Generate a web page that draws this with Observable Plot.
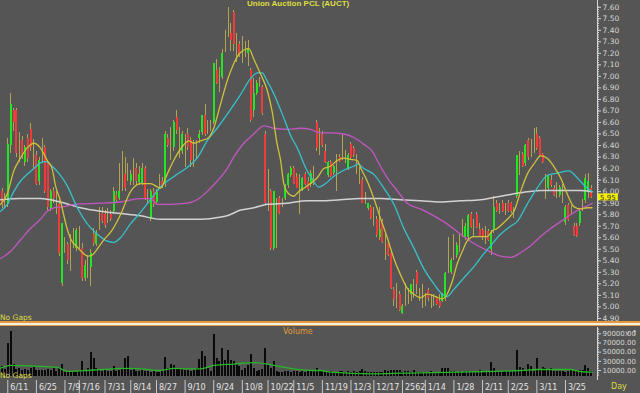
<!DOCTYPE html>
<html><head><meta charset="utf-8">
<script src="https://cdn.jsdelivr.net/npm/d3@7"></script>
<script src="https://cdn.jsdelivr.net/npm/@observablehq/plot@0.6"></script>
<style>
html,body{margin:0;padding:0;background:#555555;}
#wrap{position:relative;width:640px;height:393px;background:#555555;overflow:hidden;font-family:"DejaVu Sans",sans-serif;}
.pane{position:absolute;left:0;}
.pane svg{overflow:visible;display:block;}
.lbl{position:absolute;white-space:nowrap;line-height:1;}
.band{position:absolute;left:0;width:640px;}
</style></head><body><div id="wrap"></div>
<script>
// ---- data ----
const openP=[6.00,5.92,5.89,6.40,6.70,6.70,6.40,6.44,6.25,6.46,6.54,6.35,6.31,6.09,6.35,6.38,6.25,5.85,6.00,5.92,
5.89,5.20,5.55,5.54,5.45,5.60,5.51,5.62,5.51,5.25,5.32,5.34,5.63,5.54,5.75,5.81,5.80,5.78,5.80,5.83,
5.97,5.94,6.12,6.15,6.15,6.09,6.15,6.20,6.08,6.07,6.20,5.98,5.76,6.00,5.91,6.10,6.09,6.06,6.46,6.40,
6.38,6.64,6.45,6.35,6.42,6.50,6.44,6.33,6.38,6.46,6.51,6.66,6.55,6.58,6.60,7.05,7.00,6.99,7.30,7.45,
7.37,7.55,7.25,7.28,7.20,7.22,7.20,7.05,6.70,6.85,6.95,6.90,6.50,5.95,6.00,5.51,5.85,5.94,5.90,5.94,
6.05,6.14,6.20,6.12,6.08,6.02,6.15,6.09,6.06,6.12,6.60,6.45,6.50,6.35,6.14,6.25,6.16,6.20,6.30,6.35,
6.30,6.20,6.41,6.37,6.24,6.15,6.10,5.95,5.85,5.86,5.80,5.76,5.60,5.74,5.50,5.55,5.46,5.15,5.10,5.11,
4.94,5.10,5.10,5.11,5.15,5.30,5.12,5.10,5.05,5.14,5.05,5.06,5.07,5.05,5.05,5.07,5.45,5.30,5.50,5.45,
5.55,5.65,5.60,5.60,5.80,5.70,5.80,5.67,5.66,5.62,5.65,5.50,5.66,5.90,5.86,5.90,5.86,5.90,5.90,5.82,
5.96,6.25,6.32,6.24,6.44,6.40,6.45,6.50,6.46,6.32,6.05,6.03,6.10,6.03,6.02,5.97,6.00,5.73,5.88,5.85,
5.70,5.70,5.72,5.88,5.92,6.00,6.03];
const highP=[6.03,5.98,6.46,6.85,6.72,6.72,6.51,6.48,6.40,6.50,6.59,6.45,6.35,6.30,6.46,6.40,6.27,6.02,6.04,6.00,
5.92,5.72,5.60,5.56,5.63,5.68,5.68,5.70,5.55,5.40,5.45,5.50,5.68,5.66,5.86,5.86,5.84,5.85,5.84,6.04,
6.00,6.24,6.35,6.30,6.24,6.18,6.29,6.24,6.22,6.24,6.22,6.02,6.02,6.03,6.02,6.15,6.12,6.52,6.50,6.56,
6.62,6.70,6.56,6.52,6.50,6.55,6.47,6.44,6.44,6.53,6.66,6.76,6.62,6.62,7.11,7.15,7.08,7.23,7.40,7.60,
7.46,7.57,7.37,7.30,7.35,7.30,7.31,7.07,6.98,6.96,6.99,6.92,6.52,6.19,6.02,6.00,5.94,5.96,5.94,6.06,
6.16,6.22,6.22,6.16,6.15,6.12,6.17,6.12,6.18,6.22,6.62,6.55,6.52,6.41,6.26,6.27,6.23,6.32,6.32,6.50,
6.36,6.33,6.43,6.39,6.32,6.21,6.12,5.99,5.90,5.88,5.86,5.78,5.86,5.76,5.63,5.57,5.48,5.17,5.20,5.13,
5.02,5.20,5.16,5.19,5.24,5.32,5.16,5.19,5.12,5.16,5.11,5.11,5.09,5.11,5.12,5.30,5.60,5.42,5.63,5.56,
5.63,5.76,5.72,5.80,5.82,5.76,5.82,5.72,5.68,5.70,5.67,5.66,5.96,5.92,5.90,5.92,5.90,5.92,5.91,5.86,
6.31,6.35,6.34,6.41,6.46,6.45,6.55,6.56,6.48,6.33,6.15,6.14,6.14,6.05,6.08,6.05,6.06,5.88,5.90,5.88,
5.72,5.72,5.84,5.93,6.15,6.16,6.05];
const lowP=[5.85,5.85,5.86,6.33,6.52,6.30,6.25,6.28,6.22,6.25,6.35,6.20,6.05,6.05,6.24,5.98,5.84,5.83,5.90,5.80,
5.44,5.18,5.46,5.37,5.31,5.51,5.48,5.50,5.22,5.22,5.25,5.18,5.52,5.52,5.66,5.72,5.68,5.72,5.74,5.80,
5.90,5.92,6.00,6.00,6.09,6.05,6.05,6.05,6.05,6.05,5.92,5.90,5.74,5.86,5.89,6.03,6.03,6.04,6.38,6.27,
6.35,6.50,6.29,6.32,6.21,6.36,6.21,6.21,6.29,6.42,6.49,6.48,6.50,6.52,6.58,6.93,6.86,6.97,7.21,7.34,
7.22,7.22,7.12,7.16,7.11,7.16,7.09,6.60,6.64,6.83,6.90,6.66,5.89,5.83,5.49,5.49,5.51,5.80,5.86,5.92,
6.03,6.12,6.06,6.03,5.80,6.00,6.05,6.00,6.04,6.05,6.35,6.31,6.38,6.24,6.12,6.12,6.14,6.00,6.25,6.27,
6.24,6.18,6.28,6.30,6.15,6.06,5.90,5.89,5.84,5.76,5.70,5.60,5.58,5.55,5.40,5.44,5.15,5.00,4.99,4.96,
4.93,5.00,5.02,5.05,5.07,5.11,5.05,4.99,5.00,5.05,4.99,5.00,5.01,4.99,5.04,5.05,5.29,5.28,5.40,5.42,
5.47,5.60,5.58,5.58,5.68,5.60,5.68,5.60,5.58,5.54,5.57,5.45,5.64,5.82,5.80,5.82,5.79,5.82,5.81,5.77,
5.94,6.14,6.21,6.22,6.27,6.30,6.33,6.36,6.30,6.24,5.93,6.01,6.04,5.96,5.94,5.95,5.90,5.71,5.74,5.80,
5.61,5.60,5.70,5.83,5.90,5.94,5.94];
const closeP=[5.89,5.92,6.41,6.76,6.60,6.33,6.40,6.31,6.38,6.29,6.38,6.35,6.06,6.27,6.35,6.00,5.86,6.00,5.94,5.92,
5.46,5.72,5.55,5.40,5.45,5.60,5.66,5.62,5.25,5.36,5.32,5.46,5.55,5.64,5.75,5.74,5.71,5.78,5.76,6.00,
5.92,6.00,6.12,6.03,6.15,6.15,6.15,6.09,6.15,6.20,5.94,5.98,6.00,5.89,5.99,6.10,6.05,6.50,6.40,6.40,
6.60,6.53,6.45,6.50,6.42,6.38,6.27,6.33,6.38,6.50,6.66,6.50,6.55,6.58,7.11,6.94,7.00,7.20,7.30,7.45,
7.31,7.28,7.25,7.18,7.20,7.22,7.24,6.62,6.85,6.94,6.95,6.68,5.90,5.95,5.51,6.00,5.85,5.81,5.90,6.05,
6.15,6.20,6.06,6.03,6.08,6.11,6.06,6.02,6.16,6.12,6.37,6.45,6.40,6.25,6.25,6.13,6.22,6.20,6.26,6.35,
6.30,6.31,6.29,6.31,6.24,6.15,5.90,5.95,5.90,5.77,5.80,5.62,5.67,5.56,5.50,5.45,5.16,5.06,5.10,4.97,
5.00,5.10,5.10,5.19,5.15,5.19,5.12,5.10,5.05,5.07,5.05,5.06,5.02,5.00,5.11,5.29,5.45,5.40,5.50,5.53,
5.55,5.65,5.70,5.79,5.69,5.70,5.69,5.61,5.60,5.62,5.58,5.64,5.86,5.83,5.86,5.83,5.86,5.83,5.83,5.82,
6.31,6.25,6.22,6.40,6.30,6.40,6.45,6.37,6.31,6.25,6.05,6.13,6.05,5.97,6.02,6.04,6.00,5.86,5.75,5.85,
5.62,5.61,5.83,5.88,6.11,6.09,5.95];
const volume=[18000,12000,69000,94000,22000,12000,14000,10000,12000,10000,14000,16000,10000,10000,10000,9000,12000,10000,14000,8000,
16000,23000,7000,6000,7000,7000,6000,7000,29000,10000,14000,49000,36000,14000,10000,8000,10000,7000,8000,18000,
8000,10000,12000,36000,40000,10000,14000,8000,7000,10000,8000,7000,6000,7000,6000,6000,10000,38000,14000,23000,
20000,15000,13000,12000,10000,10000,8000,10000,14000,33000,51000,40000,14000,8000,89000,36000,30000,58000,31000,54000,
31000,30000,22000,18000,10000,14000,20000,44000,15000,8000,10000,12000,58000,22000,14000,30000,7000,6000,6000,7000,
8000,6000,7000,8000,6000,7000,6000,7000,8000,10000,14000,10000,8000,6000,6000,7000,6000,6000,8000,7000,
6000,7000,6000,7000,6000,8000,12000,8000,6000,6000,5000,6000,5000,6000,9000,7000,9000,10000,9000,10000,
6000,7000,8000,6000,9000,6000,5000,6000,6000,6000,7000,6000,6000,5000,14000,15000,15000,8000,7000,6000,
7000,6000,7000,8000,7000,6000,7000,9000,7000,6000,7000,27000,15000,8000,7000,8000,7000,8000,9000,8000,
54000,17000,14000,8000,23000,19000,8000,36000,12000,17000,14000,12000,14000,8000,7000,7000,8000,6000,8000,12000,
8000,7000,10000,9000,20000,14000,8000];
// moving averages as drawn: [bar index, value]
const maShort=[[-0.5,5.89],[1.8,5.98],[4.1,6.18],[6.4,6.29],[8.8,6.38],[11.1,6.42],[13.4,6.38],[15.8,6.27],[17.5,6.20],[18.7,6.05],[20.4,5.92],[22.5,5.70],[24,5.59],[26.3,5.52],[28.6,5.46],[30,5.44],[31.5,5.45],[33.5,5.51],[35.5,5.58],[38.3,5.66],[41.4,5.80],[44.9,6.00],[48.4,6.07],[51.9,6.07],[55.4,6.03],[57.7,6.15],[60,6.27],[62.4,6.37],[65.3,6.44],[67,6.42],[69.4,6.44],[72.3,6.47],[74,6.55],[76.4,6.76],[78.7,6.96],[81,7.11],[83.1,7.20],[86.3,7.24],[88,7.15],[90.4,7.02],[92.7,6.88],[94.4,6.70],[96.2,6.41],[97.4,6.27],[98.5,6.07],[100.3,5.98],[102,5.96],[103.7,6.00],[105.5,6.03],[107.8,6.07],[110.2,6.12],[112.5,6.20],[114.8,6.22],[117.2,6.27],[119.5,6.29],[121.8,6.28],[124.2,6.27],[125.3,6.21],[127.7,6.09],[130,5.94],[132.3,5.77],[134.7,5.60],[137,5.42],[139.3,5.28],[141.7,5.16],[144,5.11],[146.3,5.08],[148.6,5.11],[151.5,5.09],[153.9,5.07],[155.6,5.11],[157.4,5.22],[159.1,5.37],[160.9,5.48],[162.6,5.57],[165,5.61],[167.3,5.61],[169.6,5.61],[171.4,5.66],[173.1,5.68],[175.4,5.73],[177.8,5.79],[179,5.83],[181.3,6.00],[183.6,6.15],[186,6.24],[188.3,6.31],[190.6,6.29],[192.9,6.22],[195.3,6.12],[197.6,5.98],[199.9,5.87],[202.2,5.85],[204.6,5.86],[206.3,5.86]];
const maMid=[[-0.5,5.83],[1.8,5.89],[4.1,6.00],[6.4,6.09],[8.8,6.15],[11.1,6.20],[13.4,6.25],[15.2,6.26],[17.5,6.22],[19.8,6.16],[22.8,6.05],[26.3,5.86],[29.8,5.72],[33.3,5.63],[36.8,5.57],[39.1,5.56],[41.4,5.60],[44.9,5.72],[48.4,5.82],[51.9,5.93],[55.4,6.04],[60,6.13],[64.7,6.21],[68.2,6.29],[71.7,6.44],[75.2,6.55],[78.7,6.67],[83.1,6.83],[86.9,6.98],[89.2,7.03],[90.9,7.03],[92.7,6.96],[95,6.85],[98.5,6.64],[101,6.48],[103.2,6.38],[106.1,6.21],[108.4,6.11],[110.7,6.04],[113.1,6.07],[115.4,6.12],[118.3,6.17],[120.7,6.20],[123,6.22],[124.5,6.24],[126.5,6.20],[130,6.15],[133.5,6.03],[137,5.89],[140.5,5.68],[144,5.51],[147.5,5.33],[151,5.20],[153.9,5.11],[155.6,5.09],[157.9,5.15],[161.4,5.25],[165,5.35],[168.4,5.46],[170.8,5.53],[174.3,5.63],[177.8,5.70],[180.1,5.74],[183.6,5.89],[187.1,6.03],[190.6,6.14],[194.1,6.16],[198.2,6.18],[201.1,6.12],[204.6,6.03],[206.3,6.00]];
const maLong=[[-0.5,5.42],[2.9,5.48],[6.4,5.58],[9.9,5.68],[13.4,5.76],[15.8,5.83],[18.1,5.86],[21.6,5.87],[25.1,5.89],[34.4,5.90],[41.4,5.91],[48.4,5.94],[51.9,5.94],[54.2,5.89],[58.9,5.89],[64.7,5.90],[68.2,5.93],[71.7,6.00],[75.2,6.09],[78.7,6.20],[81,6.30],[84.5,6.42],[88,6.50],[91.5,6.57],[95,6.55],[99.7,6.54],[104.3,6.55],[107.8,6.54],[111.3,6.51],[114.8,6.51],[119.5,6.50],[123,6.47],[126.5,6.41],[130,6.33],[131.2,6.27],[134.7,6.12],[138.1,6.01],[141.7,5.90],[146.3,5.85],[151,5.79],[155.6,5.72],[160.3,5.63],[165,5.55],[169.6,5.49],[174.3,5.44],[177.8,5.43],[181.3,5.47],[184.8,5.53],[188.3,5.61],[191.8,5.68],[195.3,5.74],[198.8,5.80],[202.2,5.85],[205.7,5.89],[206.3,5.90]];
const ma200=[[-0.5,5.93],[6.4,5.94],[13.4,5.94],[20.4,5.91],[27.4,5.86],[34.4,5.83],[41.4,5.81],[48.4,5.79],[55.4,5.76],[62.4,5.76],[69.4,5.76],[74,5.77],[78.7,5.79],[83.4,5.84],[88,5.86],[92.7,5.89],[99.7,5.90],[106.7,5.92],[111.3,5.92],[118.3,5.93],[125.3,5.94],[132.3,5.94],[139.3,5.93],[146.3,5.92],[153.3,5.91],[160.3,5.92],[167.3,5.93],[174.3,5.96],[181.3,5.99],[188.3,6.01],[195.3,6.01],[202.2,6.01],[206.3,6.00]];
const volMa=[[-0.5,15000],[3,21000],[11,19500],[19.3,17000],[22.8,8000],[29.8,10000],[34.4,12000],[39.1,13700],[43.8,14500],[48.4,13700],[55.4,10000],[60,14500],[64.7,13700],[69.4,13700],[74,21000],[81,24000],[87.9,27000],[92.7,24000],[95,21000],[101.8,13700],[108.8,10000],[111.3,10000],[114.8,6300],[129.9,2800],[146.3,5000],[169.6,7800],[181.3,10000],[187.1,12200],[198.8,12200],[202.2,7800],[206.3,6300]];
const dateIdx=[2,12,22,27,36,45,54,64,74,84,93,102,112,122,130,140,148,158,168,177,187,197];
const dateLbl=["6/11","6/25","7/9","7/16","7/31","8/14","8/27","9/10","9/24","10/8","10/22","11/5","11/19","12/3","12/17","2562","1/14","1/28","2/11","2/25","3/11","3/25"];
const priceTicks=d3.range(49,77).map(v=>v/10);
const volTicks=[10000,30000,50000,70000,90000];
const lastPrice=5.95;

// ---- styles ----
const GREEN="#22e622", RED="#f23a3a", WICK="#b4a452", AX="#d6d6d6";
const xDom=[-0.55,208.2];
const bars=closeP.map((c,i)=>({i,o:openP[i],h:highP[i],l:lowP[i],c,v:volume[i]}));
const wrap=document.getElementById("wrap");
function pane(top,node){const d=document.createElement("div");d.className="pane";d.style.top=top+"px";d.appendChild(node);wrap.appendChild(d);}
function label(txt,x,y,css){const d=document.createElement("div");d.className="lbl";d.textContent=txt;d.style.left=x+"px";d.style.top=y+"px";Object.assign(d.style,css||{});wrap.appendChild(d);}
const baseStyle={background:"transparent",color:AX,fontFamily:"DejaVu Sans",fontSize:"7.5px",overflow:"visible"};
const minorPrice=d3.range(245,381).map(v=>v/50);
const minorVol=d3.range(0,100001,5000);

const price=Plot.plot({
  width:640,height:321,marginTop:0,marginBottom:0,marginLeft:0,marginRight:43,
  style:baseStyle,
  x:{domain:xDom,axis:null},
  y:{domain:[4.8733,7.6583],axis:null},
  marks:[
    Plot.ruleX(bars,{x:"i",y1:"l",y2:"h",stroke:WICK,strokeWidth:1,shapeRendering:"crispEdges"}),
    Plot.ruleX(bars.filter(d=>d.c!==d.o),{x:"i",y1:"o",y2:"c",stroke:d=>d.c>d.o?GREEN:RED,strokeWidth:2,shapeRendering:"crispEdges"}),
    Plot.line(ma200,{x:d=>d[0],y:d=>d[1],stroke:"#d2d2d2",strokeWidth:1.5,curve:"monotone-x"}),
    Plot.line(maLong,{x:d=>d[0],y:d=>d[1],stroke:"#c257c2",strokeWidth:1.3,curve:"monotone-x"}),
    Plot.line(maMid,{x:d=>d[0],y:d=>d[1],stroke:"#35c3cc",strokeWidth:1.3,curve:"monotone-x"}),
    Plot.line(maShort,{x:d=>d[0],y:d=>d[1],stroke:"#cfc23a",strokeWidth:1.3,curve:"monotone-x"}),
    Plot.ruleX([xDom[1]],{stroke:AX,strokeWidth:1}),
    Plot.ruleY(minorPrice,{y:d=>d,x1:xDom[1],x2:xDom[1]+0.7,stroke:AX,strokeWidth:1}),
    Plot.axisY(priceTicks,{anchor:"right",tickSize:3,tickPadding:2,tickFormat:d=>d.toFixed(2),color:AX,fontSize:7.5}),
    Plot.rect([lastPrice],{x1:xDom[1]+0.3,x2:xDom[1]+7.3,y1:d=>d-0.03,y2:d=>d+0.03,fill:"#f2f000"}),
    Plot.text([lastPrice],{x:xDom[1]+0.9,y:d=>d,text:d=>d.toFixed(2),textAnchor:"start",fill:"#333",fontSize:7})
  ]
});
pane(0,price);

// separators between panels
[[321,1.6,"#e39a3c"],[323.2,1.8,"#f0efe8"],[325.2,1.2,"#e39a3c"]].forEach(([t,h,c])=>{const d=document.createElement("div");d.className="band";d.style.top=t+"px";d.style.height=h+"px";d.style.background=c;wrap.appendChild(d);});

const vol=Plot.plot({
  width:640,height:53,marginTop:0,marginBottom:0,marginLeft:0,marginRight:43,
  style:baseStyle,
  x:{domain:xDom,axis:null},
  y:{domain:[-11798,103733],axis:null},
  marks:[
    Plot.ruleX(bars,{x:"i",y1:-3500,y2:"v",stroke:"#0a0a0a",strokeWidth:2,shapeRendering:"crispEdges"}),
    Plot.line(volMa,{x:d=>d[0],y:d=>d[1],stroke:"#27b827",strokeWidth:1.3,curve:"monotone-x"}),
    Plot.ruleX([xDom[1]],{stroke:AX,strokeWidth:1}),
    Plot.ruleY(minorVol,{y:d=>d,x1:xDom[1],x2:xDom[1]+0.7,stroke:AX,strokeWidth:1}),
    Plot.axisY(volTicks,{anchor:"right",tickSize:3,tickPadding:2,tickFormat:d=>d.toFixed(2),color:AX,fontSize:7})
  ]
});
pane(327,vol);

const dates=Plot.plot({
  width:640,height:13,marginTop:0,marginBottom:0,marginLeft:0,marginRight:43,
  style:baseStyle,
  x:{domain:xDom,axis:null},
  marks:[
    Plot.ruleX(dateIdx,{x:d=>d,stroke:"#c8c8c8",strokeWidth:1}),
    Plot.text(dateIdx,{x:d=>d,text:(d,k)=>dateLbl[k],textAnchor:"start",dx:2.5,frameAnchor:"middle",fill:"#e4e4e4",fontSize:8})
  ]
});
pane(380,dates);

label("Union Auction PCL (AUCT)",247,0,{color:"#dede40",fontWeight:"bold",fontSize:"8px",fontFamily:"Liberation Sans"});
label("No Gaps",0,314,{color:"#dede40",fontSize:"7.5px"});
label("No Gaps",0,372,{color:"#dede40",fontSize:"7.5px"});
label("Volume",283,328,{color:"#e29a34",fontSize:"8px"});
label("Day",611,383,{color:"#dede40",fontSize:"8px"});
</script></body></html>
